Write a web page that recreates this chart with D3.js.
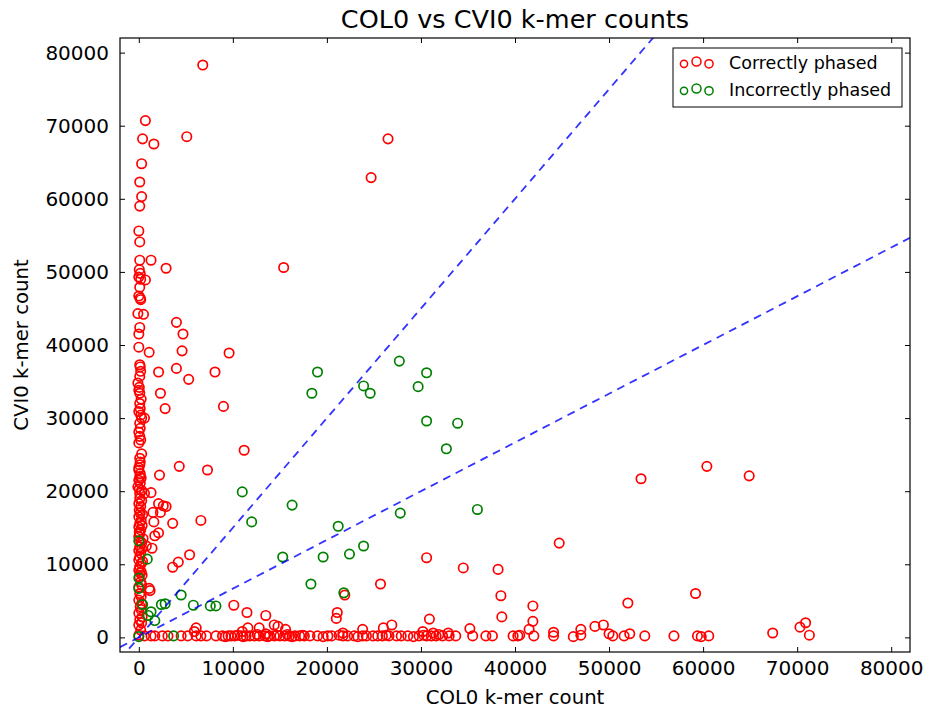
<!DOCTYPE html>
<html>
<head>
<meta charset="utf-8">
<script src="https://cdn.jsdelivr.net/npm/d3@7/dist/d3.min.js"></script>
<style>
  body { margin: 0; background: #fff; }
  text { font-family: "DejaVu Sans", sans-serif; fill: #000; }
</style>
</head>
<body>
<svg id="chart" width="927" height="711"></svg>
<script>
// ---------- data ----------
const chartTitle = "COL0 vs CVI0 k-mer counts";
const xLabel = "COL0 k-mer count";
const yLabel = "CVI0 k-mer count";
const seriesNames = ["Correctly phased", "Incorrectly phased"];
const xTicks = [0, 10000, 20000, 30000, 40000, 50000, 60000, 70000, 80000];
const yTicks = [0, 10000, 20000, 30000, 40000, 50000, 60000, 70000, 80000];
const ratioLines = [1.5, 1 / 1.5];

// Correctly phased [COL0, CVI0]
const correct = [
  [6800,78300],[700,70700],[400,68200],[1600,67500],[5100,68500],[26500,68200],[24700,62900],
  [300,64800],[100,62300],[300,60300],[100,59000],[0,55600],[100,54100],[100,51600],[1300,51600],
  [2900,50500],[15400,50600],[50,50300],[150,49800],[0,49300],[200,49000],[700,48900],[100,47900],
  [0,46700],[150,46400],[200,46200],[-100,44300],[500,44200],[4000,43100],[100,42400],[0,41500],
  [4700,41500],[0,39700],[1100,39000],[4600,39200],[9600,38900],
  [100,37300],[150,37000],[100,35700],[2100,36300],[4000,36800],[5300,35300],[8100,36300],
  [-100,34800],[0,33800],[100,33400],[2300,33400],[2800,31300],[9000,31600],
  [100,32000],[150,31300],[0,30900],[200,30400],[300,30000],[600,30000],[100,29300],[150,28600],
  [100,27500],[0,26600],[11200,25600],[200,36400],[50,34200],[250,32600],[0,28100],[200,27000],
  [100,24500],[150,24000],[100,23600],[0,22900],[150,22400],[100,22000],[0,21500],[150,21100],
  [-100,20600],[100,19700],[4300,23400],[7300,22900],[2200,22200],[1300,19800],[600,19700],
  [300,25100],[0,23200],[250,21800],[50,20300],[300,20100],
  [2100,18300],[2600,18000],[2900,17900],[2300,17100],[1500,17100],[3600,15600],[6600,16000],
  [1600,15800],[1700,13900],[2100,14300],[1400,12200],[800,12500],[5400,11300],[4200,10300],
  [3600,9600],[1100,6700],[1200,6400],
  [100,19000],[0,18300],[200,17900],[50,17400],[150,17000],[0,16500],[250,16000],[100,15600],
  [0,15100],[200,14700],[100,14200],[0,13800],[300,12900],[100,12400],[0,11900],[200,11500],
  [100,11000],[0,10600],[250,10100],[100,9700],[0,9200],[150,8800],[50,8300],[200,7600],
  [0,6900],[100,6000],[0,5100],[150,4200],[0,3300],[100,2400],[0,1700],[200,1000],[0,300],
  [300,18700],[400,16800],[350,15300],[450,13500],[300,12100],[400,10400],[350,8500],[300,7200],
  [250,5600],[300,4600],[250,3800],[350,2800],[300,2000],[200,13100],[50,14400],[250,9000],
  [10100,4400],[11500,3400],[13500,3000],[6100,1300],[5900,800],[11600,1300],[12800,1300],
  [14400,1700],[14800,1500],[15600,1100],[11000,800],[13500,500],
  [600,200],[1300,200],[1700,200],[2500,200],[3100,200],[4500,200],[5200,200],[6100,200],
  [6600,200],[7200,200],[8200,200],[8900,200],[9500,200],[9800,200],[10200,200],[10900,200],
  [11400,200],[11800,200],[12300,200],[12800,200],[13400,200],[13900,200],[14400,200],[15000,200],
  [15500,200],[16000,200],[16600,200],[17100,200],[17600,200],[18200,200],[19000,200],[20100,200],
  [20500,200],[21700,200],[22200,200],[22900,200],[23800,200],[24200,200],[24900,200],[25400,200],
  [25900,200],[26600,200],[27400,200],[27900,200],[28600,200],[29800,200],[30600,200],[31100,200],
  [31600,200],[32300,200],[33000,200],[33700,200],[35500,200],[36900,200],[37600,200],[39800,200],
  [40300,200],[40500,300],[42000,200],[44100,200],[46200,100],[47000,300],[50000,500],[50400,200],
  [51600,200],[52200,500],[53800,200],[56900,200],[59400,200],[59800,100],[60600,200],
  [9200,100],[10500,300],[11100,100],[12600,400],[13700,100],[14700,300],[15800,400],[16300,100],
  [17400,300],[19600,100],[21300,300],[23300,100],[26300,300],[29200,100],[30300,300],[31900,400],
  [25700,7300],[21900,5800],[21100,3400],[21000,2600],[23800,1100],[26000,1300],[26900,1700],
  [21700,600],[30900,2500],[35200,1200],[30200,800],[31300,600],[32900,600],[38500,5700],
  [38600,2800],[41900,4300],[41900,2200],[41500,1100],[30600,10900],[34500,9500],[38200,9300],
  [44700,12900],[44100,700],[48500,1500],[49400,1700],[47000,1100],[52000,4700],[53400,21700],
  [60400,23400],[64900,22100],[59200,6000],[67400,600],[70300,1400],[70900,2000],[71300,300]
];

// Incorrectly phased [COL0, CVI0]
const incorrect = [
  [0,100],[3700,200],[1000,3000],[1300,3500],[1700,2300],[400,4500],[2400,4500],[2800,4600],
  [0,6700],[0,8100],[0,13200],[900,10700],[4500,5800],[5800,4400],[7600,4300],[8200,4300],
  [11000,19900],[12000,15800],[16300,18100],[15300,11000],[18300,7300],[19600,11000],[21800,6100],
  [22400,11400],[23900,12500],[21200,15200],[27800,17000],[36000,17500],[32700,25800],[30600,29600],
  [33900,29300],[19000,36300],[18400,33400],[23900,34400],[24600,33400],[27700,37800],[29700,34300],
  [30600,36200]
];

const seriesColors = ["#ff0000", "#008000"];

// ---------- layout ----------
const svg = d3.select("#chart");
const L = 120, R = 910, T = 38, B = 652;
const x = d3.scaleLinear().domain([-2000, 82000]).range([L, R]);
const y = d3.scaleLinear().domain([-2000, 82000]).range([B, T]);

svg.append("defs").append("clipPath").attr("id", "clip")
  .append("rect").attr("x", L).attr("y", T).attr("width", R - L).attr("height", B - T);

const plot = svg.append("g").attr("clip-path", "url(#clip)");

function drawPoints(data, color) {
  plot.append("g").selectAll("circle").data(data).join("circle")
    .attr("cx", d => x(d[0])).attr("cy", d => y(d[1])).attr("r", 4.7)
    .attr("fill", "none").attr("stroke", color).attr("stroke-width", 1.7);
}
drawPoints(correct, seriesColors[0]);
drawPoints(incorrect, seriesColors[1]);

// ratio lines
const line = d3.line().x(d => x(d[0])).y(d => y(d[1]));
ratioLines.forEach(k => {
  plot.append("path")
    .attr("d", line([[-2000, -2000 * k], [82000, 82000 * k]]))
    .attr("fill", "none").attr("stroke", "#0000ff").attr("stroke-opacity", 0.8)
    .attr("stroke-width", 1.8).attr("stroke-dasharray", "8,6");
});

// axes
const tickLen = 5;
const axB = d3.axisBottom(x).tickValues(xTicks).tickSize(-tickLen).tickPadding(9).tickFormat(d3.format("d"));
const axT = d3.axisTop(x).tickValues(xTicks).tickSize(-tickLen).tickFormat("");
const axLft = d3.axisLeft(y).tickValues(yTicks).tickSize(-tickLen).tickPadding(11).tickFormat(d3.format("d"));
const axRt = d3.axisRight(y).tickValues(yTicks).tickSize(-tickLen).tickFormat("");

function style(g) {
  g.select(".domain").remove();
  g.selectAll(".tick line").attr("stroke", "#000").attr("stroke-width", 1);
  g.selectAll(".tick text").style("font-family", "DejaVu Sans").style("font-size", "20px").attr("fill", "#000");
}
svg.append("g").attr("transform", `translate(0,${B})`).call(axB).call(style);
svg.append("g").attr("transform", `translate(0,${T})`).call(axT).call(style);
svg.append("g").attr("transform", `translate(${L},0)`).call(axLft).call(style);
svg.append("g").attr("transform", `translate(${R},0)`).call(axRt).call(style);

svg.append("rect").attr("x", L).attr("y", T).attr("width", R - L).attr("height", B - T)
  .attr("fill", "none").attr("stroke", "#000").attr("stroke-width", 1.2);

// labels
svg.append("text").attr("x", (L + R) / 2).attr("y", 28).attr("text-anchor", "middle")
  .style("font-size", "25.5px").text(chartTitle);
svg.append("text").attr("x", (L + R) / 2).attr("y", 704).attr("text-anchor", "middle")
  .style("font-size", "19.7px").text(xLabel);
svg.append("text").attr("transform", `translate(28,${(T + B) / 2}) rotate(-90)`)
  .attr("text-anchor", "middle").style("font-size", "19.7px").text(yLabel);

// legend
const lg = svg.append("g");
lg.append("rect").attr("x", 673).attr("y", 48).attr("width", 229).attr("height", 59)
  .attr("fill", "#fff").attr("stroke", "#000").attr("stroke-width", 1);
const markerOffsets = [[684, 3.6], [696.5, 4.5], [709, 4.1]];
seriesNames.forEach((name, i) => {
  const cy = 63 + i * 27;
  markerOffsets.forEach(([mx, r], j) => {
    lg.append("circle").attr("cx", mx).attr("cy", cy + (j === 1 ? -1.5 : 0.8)).attr("r", r)
      .attr("fill", "none").attr("stroke", seriesColors[i]).attr("stroke-width", 1.5);
  });
  lg.append("text").attr("x", 729).attr("y", cy + 6).style("font-size", "17.5px").text(name);
});
</script>
</body>
</html>
